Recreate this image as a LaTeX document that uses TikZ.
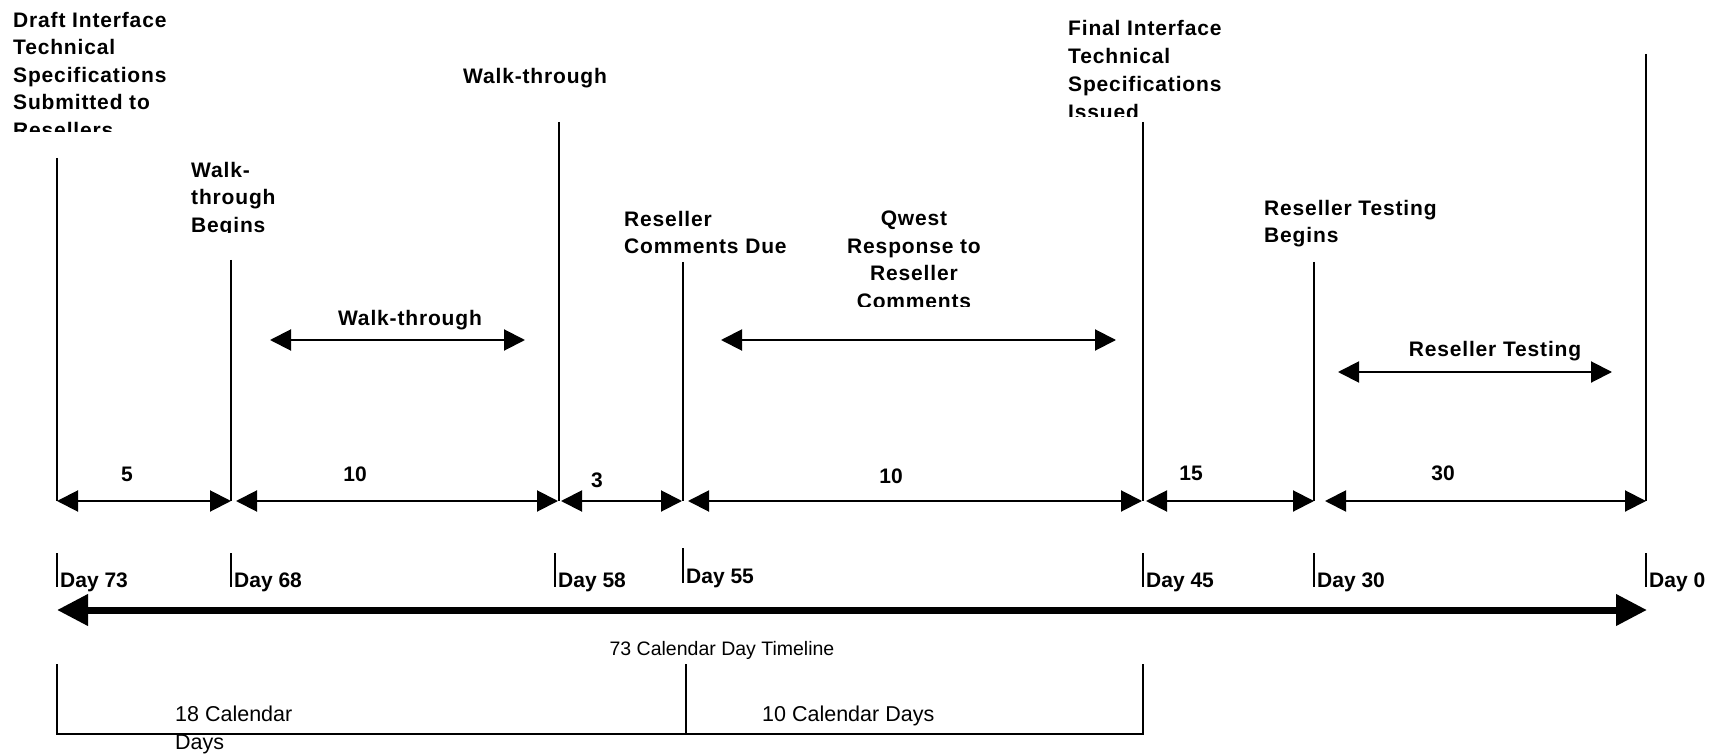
\documentclass[tikz,border=0pt]{standalone}
\usepackage{fontspec}
\setmainfont{Liberation Sans}
\newfontfamily\spacedfont[LetterSpace=4]{Liberation Sans}
\usetikzlibrary{arrows.meta}

\tikzset{
  marker/.style={line width=1.5pt},
  tick/.style={line width=1.3pt},
  span/.style={line width=2pt, {Triangle[length=21pt,width=21pt]}-{Triangle[length=21pt,width=21pt]}},
  timeline/.style={line width=7pt, {Triangle[length=31pt,width=30pt]}-{Triangle[length=31pt,width=30pt]}},
  event/.style={font=\spacedfont\bfseries\fontsize{21}{27.5}\selectfont, inner sep=0pt, align=left, anchor=north west},
  count/.style={font=\bfseries\fontsize{21}{24}\selectfont, inner sep=0pt},
  daylabel/.style={font=\bfseries\fontsize{21}{24}\selectfont, inner sep=0pt, anchor=base west},
  note/.style={font=\fontsize{21.5}{27.5}\selectfont, inner sep=0pt, align=left, anchor=north west},
}

\begin{document}
\begin{tikzpicture}[x=1pt, y=-1pt]
  \useasboundingbox (0,0) rectangle (1714,754);

  % milestone lines
  \coordinate (m73) at (57,158);   \coordinate (b73) at (57,501);
  \coordinate (m68) at (231,260);  \coordinate (b68) at (231,501);
  \coordinate (m58) at (559,122);  \coordinate (b58) at (559,501);
  \coordinate (m55) at (683,262);  \coordinate (b55) at (683,501);
  \coordinate (m45) at (1143,122); \coordinate (b45) at (1143,501);
  \coordinate (m30) at (1314,262); \coordinate (b30) at (1314,501);
  \coordinate (m0) at (1646,54);   \coordinate (b0) at (1646,501);
  \draw[marker] (m73) -- (b73);
  \draw[marker] (m68) -- (b68);
  \draw[marker] (m58) -- (b58);
  \draw[marker] (m55) -- (b55);
  \draw[marker] (m45) -- (b45);
  \draw[marker] (m30) -- (b30);
  \draw[marker] (m0) -- (b0);

  % day counts between milestones
  \draw[span] (b73) -- (b68);
  \draw[span] ([xshift=5pt]b68) -- ([xshift=-1pt]b58);
  \draw[span] ([xshift=2pt]b58) -- ([xshift=-1pt]b55);
  \draw[span] ([xshift=5pt]b55) -- ([xshift=-1pt]b45);
  \draw[span] ([xshift=3pt]b45) -- (b30);
  \draw[span] ([xshift=11pt]b30) -- (b0);
  \node[count] (n5) at (127,474) {5};
  \node[count] (n10a) at (355,474) {10};
  \node[count] (n3) at (597,480) {3};
  \node[count] (n10b) at (891,476) {10};
  \node[count] (n15) at (1191,473) {15};
  \node[count] (n30) at (1443,473) {30};

  % event labels
  \begin{scope}
    \clip (0,0) rectangle (300,132);
    \node[event] (draft) at (13,12) {Draft Interface\\Technical\\Specifications\\Submitted to\\Resellers};
  \end{scope}
  \node[event] (walktop) at (463,68) {Walk-through};
  \begin{scope}
    \clip (150,140) rectangle (320,233);
    \node[event] (wbegins) at (191,162) {Walk-\\through\\Begins};
  \end{scope}
  \node[event] (comments) at (624,211) {Reseller\\Comments Due};
  \begin{scope}
    \clip (780,190) rectangle (1050,306);
    \node[event, align=center, anchor=north] (qwest) at (914,211) {Qwest\\Response to\\Reseller\\Comments};
  \end{scope}
  \begin{scope}
    \clip (1050,0) rectangle (1300,117);
    \node[event, font=\spacedfont\bfseries\fontsize{21}{28}\selectfont] (final) at (1068,20) {Final Interface\\Technical\\Specifications\\Issued};
  \end{scope}
  \node[event] (rtbegins) at (1264,200) {Reseller Testing\\Begins};

  % activity arrows
  \coordinate (w1) at (270,340);  \coordinate (w2) at (525,340);
  \coordinate (q1) at (721,340);  \coordinate (q2) at (1116,340);
  \coordinate (r1) at (1338,372); \coordinate (r2) at (1612,372);
  \draw[span] (w1) -- (w2);
  \draw[span] (q1) -- (q2);
  \draw[span] (r1) -- (r2);
  \node[event, anchor=north] (walkmid) at (410,310) {Walk-through};
  \node[event, anchor=north] (rtmid) at (1495,341) {Reseller Testing};

  % day ticks
  \coordinate (k73) at (57,553);   \coordinate (kb73) at (57,587);
  \coordinate (k68) at (231,553);  \coordinate (kb68) at (231,587);
  \coordinate (k58) at (555,553);  \coordinate (kb58) at (555,587);
  \coordinate (k55) at (683,548);  \coordinate (kb55) at (683,583);
  \coordinate (k45) at (1143,553); \coordinate (kb45) at (1143,587);
  \coordinate (k30) at (1314,553); \coordinate (kb30) at (1314,587);
  \coordinate (k0) at (1646,553);  \coordinate (kb0) at (1646,587);
  \draw[tick] (k73) -- (kb73);
  \draw[tick] (k68) -- (kb68);
  \draw[tick] (k58) -- (kb58);
  \draw[tick] (k55) -- (kb55);
  \draw[tick] (k45) -- (kb45);
  \draw[tick] (k30) -- (kb30);
  \draw[tick] (k0) -- (kb0);
  \node[daylabel] (day73) at ([xshift=3pt]kb73) {Day 73};
  \node[daylabel] (day68) at ([xshift=3pt]kb68) {Day 68};
  \node[daylabel] (day58) at ([xshift=3pt]kb58) {Day 58};
  \node[daylabel] (day55) at ([xshift=3pt]kb55) {Day 55};
  \node[daylabel] (day45) at ([xshift=3pt]kb45) {Day 45};
  \node[daylabel] (day30) at ([xshift=3pt]kb30) {Day 30};
  \node[daylabel] (day0) at ([xshift=3pt]kb0) {Day 0};

  % timeline
  \coordinate (tl) at (57,610);
  \coordinate (tr) at (1647,610);
  \draw[timeline] (tl) -- (tr);
  \node[note, font=\fontsize{19.5}{24}\selectfont, anchor=north] (total) at (722,641) {73 Calendar Day Timeline};

  % bracket below
  \coordinate (s73) at (57,664);   \coordinate (sb73) at (57,734);
  \coordinate (s55) at (686,664);  \coordinate (sb55) at (686,734);
  \coordinate (s45) at (1143,664); \coordinate (sb45) at (1143,734);
  \draw[marker] (s73) -- (sb73) -- (sb45) -- (s45);
  \draw[marker] (s55) -- (sb55);
  \node[note] (days18) at (175,706) {18 Calendar\\Days};
  \node[note] (days10) at (762,706) {10 Calendar Days};
\end{tikzpicture}
\end{document}
